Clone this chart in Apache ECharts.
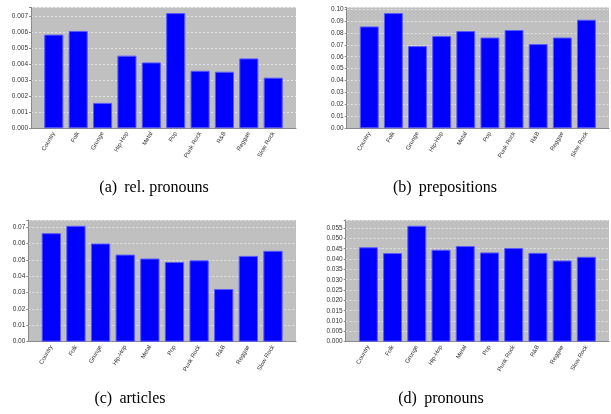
<!DOCTYPE html>
<html>
<head>
<meta charset="utf-8">
<script src="https://cdn.jsdelivr.net/npm/echarts@6/dist/echarts.min.js"></script>
<style>
  html, body { margin: 0; padding: 0; background: #fff; }
  #chart { width: 611px; height: 414px; }
</style>
</head>
<body>
<div id="chart"></div>
<script>
// genres on the x axis (same in all four panels)
const categories = ['Country', 'Folk', 'Grunge', 'Hip-Hop', 'Metal', 'Pop', 'Punk Rock', 'R&B', 'Reggae', 'Slow Rock']

// values
const relPronouns = [0.00583, 0.00606, 0.00158, 0.00452, 0.00410, 0.00717, 0.00358, 0.00352, 0.00435, 0.00315]
const prepositions = [0.0854, 0.0966, 0.0689, 0.0773, 0.0815, 0.0761, 0.0824, 0.0706, 0.0761, 0.0910]
const articles = [0.0663, 0.0708, 0.0600, 0.0532, 0.0508, 0.0487, 0.0497, 0.0322, 0.0524, 0.0555]
const pronouns = [0.0457, 0.0429, 0.0561, 0.0445, 0.0463, 0.0432, 0.0453, 0.0430, 0.0393, 0.0411]

// y tick steps and label decimals per panel
const tickSteps = [0.001, 0.01, 0.01, 0.005]
const tickDecimals = [3, 2, 2, 3]
const captions = ['(a)\u2009 rel. pronouns', '(b)\u2009 prepositions', '(c)\u2009 articles', '(d)\u2009 pronouns']

// plot rectangles [left, top, right, bottom] and caption centres
const panels = [
  { values: relPronouns, rect: [31, 7.3, 296, 128.3], cap: [154, 180] },
  { values: prepositions, rect: [346.7, 7.3, 609, 128.3], cap: [445, 180] },
  { values: articles, rect: [28.3, 220, 296, 341.7], cap: [130, 391] },
  { values: pronouns, rect: [345.7, 220, 609, 341.7], cap: [441, 391] }
]

const grid = []
const xAxis = []
const yAxis = []
const series = []
const title = []

panels.forEach((p, i) => {
  const [l, t, r, b] = p.rect
  const w = r - l
  const h = b - t
  const step = tickSteps[i]
  const dec = tickDecimals[i]
  // upper margin like the original plots (5%)
  const yMax = Math.max(...p.values) * 1.05
  const g0 = 2 * i
  const g1 = 2 * i + 1

  // background plot area with gridlines and y labels
  grid.push({ left: l, top: t, width: w, height: h, show: true, backgroundColor: '#c0c0c0', borderWidth: 0 })
  // inner grid for the bars (5% margins at both ends)
  grid.push({ left: l + 0.04 * w, top: t, width: 0.92 * w, height: h })

  xAxis.push({
    type: 'value', gridIndex: g0, min: 0, max: 1,
    axisLine: { show: true, lineStyle: { color: '#8a8a8a', width: 1 } },
    axisTick: { show: false }, axisLabel: { show: false }, splitLine: { show: false }
  })
  xAxis.push({
    type: 'category', gridIndex: g1, data: categories,
    axisLine: { show: false }, axisTick: { show: false },
    axisLabel: {
      interval: 0, rotate: 60, margin: 4,
      fontSize: 6, fontFamily: 'Liberation Sans', color: '#333'
    }
  })

  yAxis.push({
    type: 'value', gridIndex: g0, min: 0, max: yMax, interval: step,
    axisLine: { show: true, lineStyle: { color: '#8a8a8a', width: 1 } },
    axisTick: { show: true, length: 2, lineStyle: { color: '#8a8a8a' } },
    axisLabel: {
      margin: 3, fontSize: 6.5, fontFamily: 'Liberation Sans', color: '#333',
      formatter: v => Math.abs(v / step - Math.round(v / step)) < 1e-6 ? v.toFixed(dec) : ''
    },
    splitLine: { show: true, lineStyle: { color: '#ececec', width: 0.8, type: [2, 2] } }
  })
  yAxis.push({ type: 'value', gridIndex: g1, min: 0, max: yMax, show: false })

  series.push({
    type: 'bar', xAxisIndex: g1, yAxisIndex: g1, data: p.values,
    barCategoryGap: '21.7%',
    itemStyle: { color: '#0000ff', borderColor: '#5a5aff', borderWidth: 1 },
    animation: false
  })

  title.push({
    text: captions[i], left: p.cap[0], top: p.cap[1], textAlign: 'center', padding: 0,
    textStyle: { fontFamily: 'Liberation Serif', fontSize: 16, fontWeight: 'normal', color: '#000' }
  })
})

const myChart = echarts.init(document.getElementById('chart'))
myChart.setOption({
  animation: false,
  backgroundColor: '#fff',
  title: title,
  grid: grid,
  xAxis: xAxis,
  yAxis: yAxis,
  series: series
})
</script>
</body>
</html>
